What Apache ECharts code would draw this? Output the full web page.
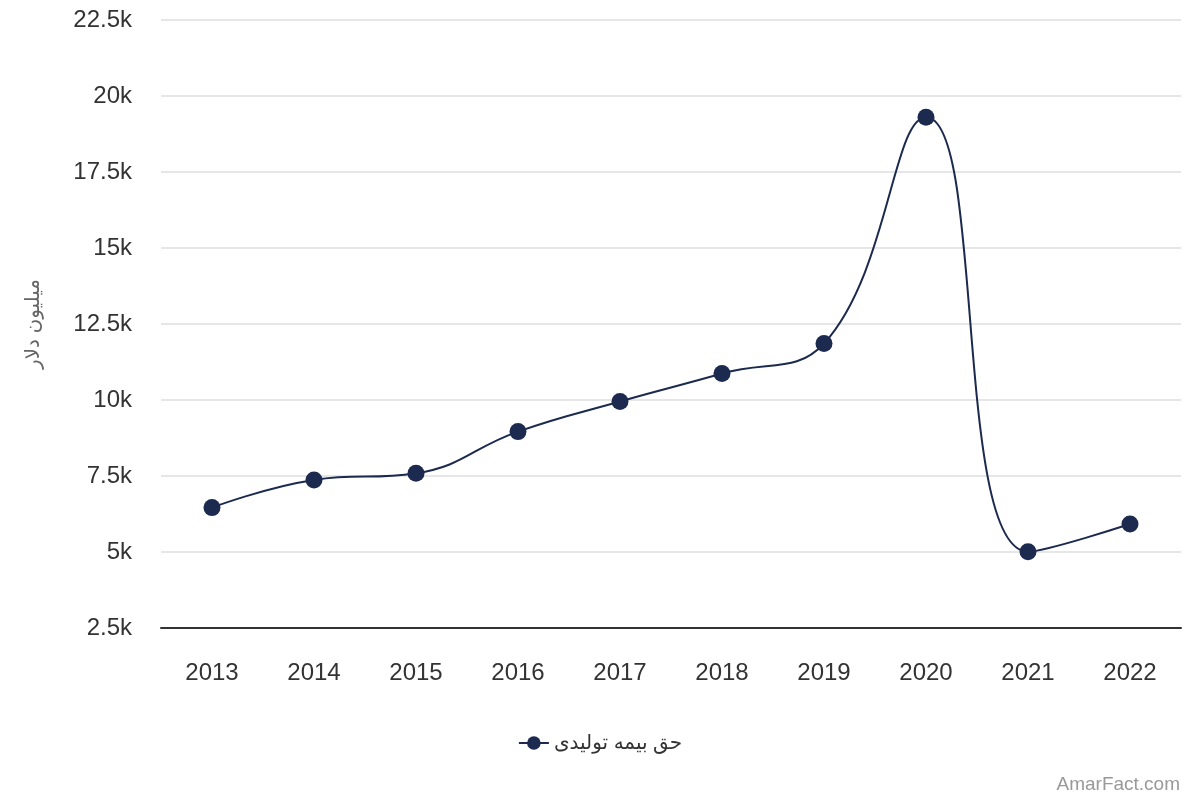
<!DOCTYPE html>
<html lang="fa">
<head>
    <meta charset="UTF-8">
    <title>حق بیمه تولیدی</title>
    <script src="https://cdn.jsdelivr.net/npm/echarts@6/dist/echarts.min.js"></script>
    <style>
        html, body { margin: 0; padding: 0; background: #fff; }
        #pic1 { width: 1200px; height: 800px; }
    </style>
</head>
<body>
    <div id="pic1"></div>
    <script>
        // data
        var years = ['2013', '2014', '2015', '2016', '2017', '2018', '2019', '2020', '2021', '2022'];
        var premium = [6460, 7370, 7590, 8960, 9950, 10870, 11860, 19300, 5010, 5920];
        var seriesName = 'حق بیمه تولیدی';
        var yName = 'میلیون دلار';

        var myChart = echarts.init(document.getElementById('pic1'));
        var font = "'Liberation Sans', Arial, 'DejaVu Sans', sans-serif";

        var option = {
            backgroundColor: '#ffffff',
            animation: false,
            textStyle: { fontFamily: font },
            grid: { left: 161, right: 19, top: 20, bottom: 172 },
            legend: {
                data: [seriesName],
                bottom: 42,
                left: 'center',
                itemWidth: 30,
                itemHeight: 17,
                textStyle: { fontSize: 20, color: '#333333', fontFamily: font }
            },
            xAxis: {
                type: 'category',
                data: years,
                boundaryGap: true,
                axisLine: { lineStyle: { color: '#333333', width: 2 } },
                axisTick: { show: false },
                axisLabel: { fontSize: 24, color: '#333333', margin: 33 }
            },
            yAxis: {
                type: 'value',
                min: 2500,
                max: 22500,
                interval: 2500,
                name: yName,
                nameLocation: 'middle',
                nameGap: 118,
                nameTextStyle: { fontSize: 20, color: '#666666' },
                axisLine: { show: false },
                axisTick: { show: false },
                splitLine: { lineStyle: { color: '#e6e6e6', width: 2 } },
                axisLabel: {
                    fontSize: 24,
                    color: '#333333',
                    margin: 29,
                    padding: [4, 0, 0, 0],
                    formatter: function (v) { return (v / 1000) + 'k'; }
                }
            },
            series: [
                {
                    name: seriesName,
                    type: 'line',
                    data: premium,
                    smooth: 0.45,
                    symbol: 'circle',
                    symbolSize: 17,
                    itemStyle: { color: '#1b2a4e' },
                    lineStyle: { color: '#1b2a4e', width: 2 }
                }
            ],
            graphic: [
                {
                    type: 'text',
                    right: 20,
                    bottom: 6,
                    style: { text: 'AmarFact.com', fontSize: 19, fill: '#999999', fontFamily: font }
                }
            ]
        };

        myChart.setOption(option);
    </script>
</body>
</html>
